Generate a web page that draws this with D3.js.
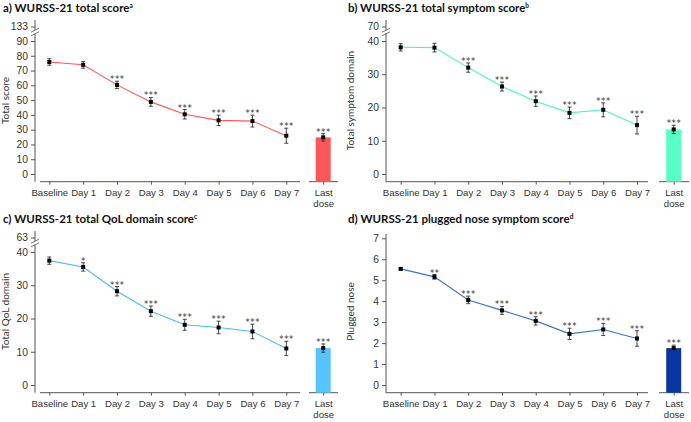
<!DOCTYPE html>
<html>
<head>
<meta charset="utf-8">
<script src="https://cdn.jsdelivr.net/npm/d3@7"></script>
<style>
  body { margin: 0; background: #fff; }
  svg { font-family: Lato, 'Open Sans', sans-serif; }
  .title { font-weight: bold; font-size: 11.5px; fill: #111; }
  .tick text { font-size: 9.6px; fill: #333; }
  .ylabel { font-size: 10px; fill: #333; }
  .stars { font-family: 'DejaVu Sans', sans-serif; font-size: 8.5px; fill: #333; letter-spacing: 0.6px; }
</style>
</head>
<body>
<div class="chart"></div>
<script>
const width = 691;
const height = 422;

const days = ['Baseline', 'Day 1', 'Day 2', 'Day 3', 'Day 4', 'Day 5', 'Day 6', 'Day 7'];
const lastLabel = ['Last', 'dose'];

// a) total score
const totalScore = [75.8, 73.9, 60.3, 48.8, 40.4, 36.3, 35.8, 25.9];
const totalScoreErr = [2.2, 2.3, 2.5, 3.0, 3.2, 3.5, 4.0, 5.1];
const totalScoreStars = ['', '', '***', '***', '***', '***', '***', '***'];
const totalScoreLast = [24.8, 2.5, '***'];

// b) total symptom score
const symptomScore = [38.1, 38.0, 32.0, 26.3, 21.9, 18.4, 19.3, 14.7];
const symptomScoreErr = [1.1, 1.3, 1.4, 1.35, 1.55, 1.75, 2.1, 2.65];
const symptomScoreStars = ['', '', '***', '***', '***', '***', '***', '***'];
const symptomScoreLast = [13.4, 1.25, '***'];

// c) QoL domain score
const qolScore = [37.4, 35.5, 28.2, 22.2, 18.1, 17.3, 16.1, 11.0];
const qolScoreErr = [1.1, 1.25, 1.4, 1.55, 1.65, 1.9, 2.2, 2.15];
const qolScoreStars = ['', '*', '***', '***', '***', '***', '***', '***'];
const qolScoreLast = [11.1, 1.25, '***'];

// d) plugged nose
const noseScore = [5.54, 5.16, 4.06, 3.56, 3.06, 2.44, 2.65, 2.22];
const noseScoreErr = [0.05, 0.11, 0.18, 0.19, 0.2, 0.27, 0.29, 0.37];
const noseScoreStars = ['', '**', '***', '***', '***', '***', '***', '***'];
const noseScoreLast = [1.76, 0.14, '***'];

const svg = d3
  .select('div.chart')
  .append('svg')
  .attr('width', width)
  .attr('height', height);

const panels = [
  {
    x: 0, y: 0, title: 'a) WURSS-21 total score', sup: 'a', ylabel: 'Total score',
    values: totalScore, err: totalScoreErr, stars: totalScoreStars, last: totalScoreLast,
    ticks: d3.range(0, 91, 10), max: 90, top: 133, color: '#ff5757', line: '#ff5757',
    yAxisX: 35, xAxis: [40, 300], pts: [49.3, 286.3], lastAxis: [309, 338],
  },
  {
    x: 345, y: 0, title: 'b) WURSS-21 total symptom score', sup: 'b', ylabel: 'Total symptom domain',
    values: symptomScore, err: symptomScoreErr, stars: symptomScoreStars, last: symptomScoreLast,
    ticks: d3.range(0, 41, 10), max: 40, top: 70, color: '#57ffc4', line: '#4cf5bb',
    yAxisX: 41, xAxis: [41, 303], pts: [55.7, 292], lastAxis: [314, 344],
  },
  {
    x: 0, y: 211, title: 'c) WURSS-21 total QoL domain score', sup: 'c', ylabel: 'Total QoL domain',
    values: qolScore, err: qolScoreErr, stars: qolScoreStars, last: qolScoreLast,
    ticks: d3.range(0, 41, 10), max: 40, top: 63, color: '#57c3ff', line: '#4dbaf5',
    yAxisX: 35, xAxis: [40, 300], pts: [49.3, 286.3], lastAxis: [309, 338],
  },
  {
    x: 345, y: 211, title: 'd) WURSS-21 plugged nose symptom score', sup: 'd', ylabel: 'Plugged nose',
    values: noseScore, err: noseScoreErr, stars: noseScoreStars, last: noseScoreLast,
    ticks: d3.range(0, 8, 1), max: 7, top: null, color: '#0a36a0', line: '#3d6fd6',
    yAxisX: 41, xAxis: [41, 303], pts: [55.7, 292], lastAxis: [314, 344],
  },
];

const axisColor = '#555';

const drawPanel = (p) => {
  const g = svg.append('g').attr('transform', `translate(${p.x},${p.y})`);
  const y0 = 174;
  const yMaxPos = p.top === null ? 27.3 : 41;
  const y = d3.scaleLinear().domain([0, p.max]).range([y0, yMaxPos]);
  const x = d3.scalePoint().domain(days).range(p.pts);
  const lastCentre = (p.lastAxis[0] + p.lastAxis[1]) / 2 - 0.3;
  const xLast = d3.scalePoint().domain(['last']).range([lastCentre, lastCentre]);
  const axisBottom = 181.7;

  // title
  const t = g.append('text').attr('class', 'title').attr('x', 3).attr('y', 12).text(p.title);
  t.append('tspan').attr('dy', -4).style('font-size', '6.5px').text(p.sup);

  // y axis
  const yAxis = g.append('g')
    .attr('transform', `translate(${p.yAxisX},0)`)
    .call(d3.axisLeft(y).tickValues(p.ticks).tickFormat(d3.format('d')).tickSize(4).tickPadding(3));
  if (p.top !== null) {
    const tg = yAxis.append('g').attr('class', 'tick').attr('transform', 'translate(0,27)');
    tg.append('line').attr('x2', -4).attr('stroke', 'currentColor');
    tg.append('text').attr('x', -7).attr('dy', '0.32em').attr('fill', 'currentColor').text(p.top);
  }
  yAxis.select('.domain').remove();
  yAxis.append('line')
    .attr('y1', p.top === null ? 23 : 20).attr('y2', axisBottom)
    .attr('stroke', 'currentColor');
  yAxis.attr('color', axisColor);
  yAxis.selectAll('.tick text').style('font-size', '10.3px');
  if (p.top !== null) {
    // break marks
    yAxis.append('rect').attr('x', -1).attr('y', 30.5).attr('width', 2).attr('height', 3).attr('fill', '#fff');
    [-1.8, 1.8].forEach((o) => {
      yAxis.append('line')
        .attr('x1', -4).attr('x2', 4)
        .attr('y1', 34 + o).attr('y2', 30 + o)
        .attr('stroke', axisColor).attr('stroke-width', 0.8);
    });
  }

  // y label
  g.append('text')
    .attr('class', 'ylabel')
    .attr('transform', `translate(9,${(y0 + 27) / 2}) rotate(-90)`)
    .attr('text-anchor', 'middle')
    .text(p.ylabel);

  // x axis
  const xAxis = g.append('g')
    .attr('transform', `translate(0,${axisBottom})`)
    .call(d3.axisBottom(x).tickSize(3).tickSizeOuter(0).tickPadding(4));
  xAxis.select('.domain').attr('d', `M${p.xAxis[0]},0H${p.xAxis[1]}`);
  xAxis.attr('color', axisColor);

  const lastAxis = g.append('g')
    .attr('transform', `translate(0,${axisBottom})`)
    .call(d3.axisBottom(xLast).tickSize(3).tickSizeOuter(0).tickFormat(''));
  lastAxis.select('.domain').attr('d', `M${p.lastAxis[0]},0H${p.lastAxis[1]}`);
  lastAxis.attr('color', axisColor);
  const lt = lastAxis.select('.tick').append('text')
    .attr('fill', '#333').attr('text-anchor', 'middle').attr('y', 7);
  lastLabel.forEach((s, i) => {
    lt.append('tspan').attr('x', 0).attr('dy', i === 0 ? '0.71em' : '1.2em').text(s);
  });

  // bar
  const [lastVal, lastErr, lastStars] = p.last;
  const bx = xLast('last');
  g.append('rect')
    .attr('x', bx - 7.5).attr('width', 15)
    .attr('y', y(lastVal)).attr('height', axisBottom - y(lastVal))
    .attr('fill', p.color);

  // line
  g.append('path')
    .datum(p.values)
    .attr('fill', 'none')
    .attr('stroke', p.line)
    .attr('stroke-width', 1.1)
    .attr('d', d3.line().x((d, i) => x(days[i])).y((d) => y(d)));

  const pts = p.values.map((v, i) => ({ cx: x(days[i]), v, e: p.err[i], s: p.stars[i] }));
  pts.push({ cx: bx, v: lastVal, e: lastErr, s: lastStars });

  const eb = g.append('g').attr('stroke', '#333').attr('stroke-width', 0.9);
  pts.forEach((d) => {
    eb.append('line').attr('x1', d.cx).attr('x2', d.cx).attr('y1', y(d.v - d.e)).attr('y2', y(d.v + d.e));
    eb.append('line').attr('x1', d.cx - 2).attr('x2', d.cx + 2).attr('y1', y(d.v + d.e)).attr('y2', y(d.v + d.e));
    eb.append('line').attr('x1', d.cx - 2).attr('x2', d.cx + 2).attr('y1', y(d.v - d.e)).attr('y2', y(d.v - d.e));
  });

  g.selectAll('rect.pt')
    .data(pts)
    .enter()
    .append('rect')
    .attr('class', 'pt')
    .attr('x', (d) => d.cx - 2).attr('y', (d) => y(d.v) - 2)
    .attr('width', 4).attr('height', 4)
    .attr('fill', '#000');

  g.selectAll('text.stars')
    .data(pts.filter((d) => d.s))
    .enter()
    .append('text')
    .attr('class', 'stars')
    .attr('text-anchor', 'middle')
    .attr('x', (d) => d.cx + 0.3)
    .attr('y', (d) => y(d.v + d.e) + 1)
    .text((d) => d.s);
};

panels.forEach(drawPanel);
</script>
</body>
</html>
